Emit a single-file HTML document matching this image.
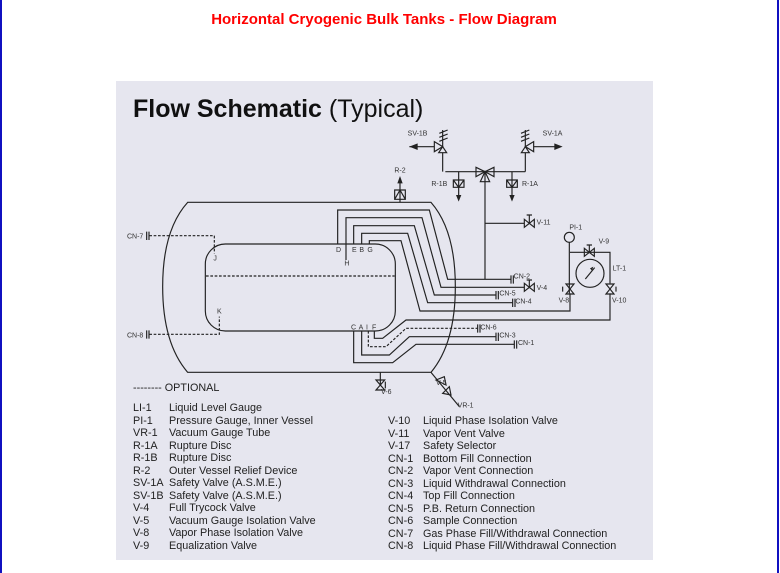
<!DOCTYPE html>
<html><head><meta charset="utf-8"><style>
body{margin:0;width:780px;height:573px;background:#fff;position:relative;overflow:hidden;font-family:"Liberation Sans",sans-serif}
.bl{position:absolute;top:0;bottom:0;width:2px;background:#1010c0}
.t{position:absolute;top:11px;left:0;width:768px;text-align:center;color:#f00;font-weight:bold;font-size:15px}
.p{position:absolute;left:116px;top:81px;width:537px;height:479px;background:#e6e6ef}
.lg{position:absolute;font-size:10.8px;color:#222;line-height:12.5px}
.lg div span{display:inline-block}
</style></head><body>
<div class="bl" style="left:0"></div><div class="bl" style="left:777px"></div>
<div class="t">Horizontal Cryogenic Bulk Tanks - Flow Diagram</div>
<div class="p"></div>
<svg style="position:absolute;left:0;top:0" width="780" height="573">
<text x="133" y="117" font-family="Liberation Sans" font-size="25" font-weight="bold" fill="#111">Flow Schematic <tspan font-weight="normal">(Typical)</tspan></text>
<g transform="translate(116,80) scale(0.33333)" fill="none" stroke="#222" stroke-width="3.5" font-family="Liberation Sans">
<path d="M215,367 H945 Q1018,450 1018,620 Q1018,790 945,877 H215 Q140,790 140,620 Q140,450 215,367 Z"/>
<rect x="268" y="492" width="570" height="261" rx="60" ry="60"/>
<path d="M270,588 H836" stroke-dasharray="8,5"/>
<path d="M665,492 V390 H940 L995,598 H1185"/>
<path d="M690,540 V413 H918 L975,622 H1225"/>
<path d="M713,492 V437 H895 L955,645 H1140"/>
<path d="M737,492 V460 H875 L935,668 H1190"/>
<path d="M760,492 V482 H855 L912,693 H1362 V640"/>
<path d="M775,753 V775 H800 L870,720 H1482 V640"/>
<path d="M757,753 V800 H810 L870,745 H1085" stroke-dasharray="8,5"/>
<path d="M737,753 V825 H820 L880,770 H1140"/>
<path d="M713,753 V848 H830 L900,793 H1195"/>
<path d="M100,467 H295 V520" stroke-dasharray="8,5"/>
<path d="M100,763 H310 V710" stroke-dasharray="8,5"/>
<path d="M92,455 V480 M99,455 V480 M92,751 V776 M99,751 V776"/>
<path d="M1185,586 V611 M1192,586 V611 M1140,633 V658 M1147,633 V658 M1190,656 V681 M1197,656 V681 M1085,733 V758 M1092,733 V758 M1140,758 V783 M1147,758 V783 M1195,781 V806 M1202,781 V806"/>
<path d="M1107,275 V598 M1107,430 H1225 M988,275 H1228 M980,218 V275 M1228,218 V275 M1028,275 V345 M1188,275 V345"/>
<path d="M1080,262 L1107,275 L1080,290 Z M1134,262 L1107,275 L1134,290 Z M1093,305 L1107,275 L1121,305 Z"/>
<path d="M1225,418 L1240,430 L1225,442 Z M1255,418 L1240,430 L1255,442 Z M1240,430 V405 M1232,405 H1248"/>
<path d="M1225,610 L1240,622 L1225,634 Z M1255,610 L1240,622 L1255,634 Z M1240,622 V600 M1232,600 H1248"/>
<path d="M955,185 L980,200 L955,215 Z M968,218 L980,200 L992,218 Z M980,150 V200 M970,160 L995,150 M970,172 L995,162 M970,184 L995,174 M1253,185 L1228,200 L1253,215 Z M1216,218 L1228,200 L1240,218 Z M1228,150 V200 M1215,160 L1240,150 M1215,172 L1240,162 M1215,184 L1240,174"/>
<path d="M955,200 H880 M1253,200 H1330"/>
<path d="M1012,300 H1044 V322 H1012 Z M1012,300 L1028,322 L1044,300 M1172,300 H1204 V322 H1172 Z M1172,300 L1188,322 L1204,300"/>
<path d="M836,330 H868 V358 H836 Z M836,358 L852,330 L868,358 M852,367 V300"/>
<circle cx="1422" cy="580" r="42"/><path d="M1408,597 L1436,563"/>
<circle cx="1360" cy="472" r="15"/><path d="M1360,487 V640 M1362,517 H1482 V610"/>
<path d="M1405,505 L1420,517 L1405,529 Z M1435,505 L1420,517 L1435,529 Z M1420,517 V495 M1412,495 H1428"/>
<path d="M1350,612 L1362,627 L1374,612 Z M1350,642 L1362,627 L1374,642 Z M1470,612 L1482,627 L1494,612 Z M1470,642 L1482,627 L1494,642 Z M1340,620 V635 M1500,620 V635"/>
<path d="M793,877 V915 M780,900 L793,915 L806,900 Z M780,930 L793,915 L806,930 Z M808,905 V925"/>
<path d="M945,877 L1030,980 M960,900 L985,890 L990,915 Z M1000,920 L980,940 L1005,945 Z"/>
<g fill="#222" stroke="none">
<path d="M880,200 L905,190 V210 Z M1340,200 L1315,190 V210 Z M1028,365 L1020,345 H1036 Z M1188,365 L1180,345 H1196 Z M852,288 L844,310 H860 Z M1422,565 L1432,560 L1428,572 Z"/>
<g font-size="21" fill="#333">
<text x="875" y="167">SV-1B</text><text x="1280" y="167">SV-1A</text><text x="835" y="277">R-2</text>
<text x="946" y="318">R-1B</text><text x="1218" y="318">R-1A</text><text x="1262" y="434">V-11</text>
<text x="1360" y="448">PI-1</text><text x="1448" y="490">V-9</text><text x="1490" y="572">LT-1</text>
<text x="1193" y="596">CN-2</text><text x="1262" y="630">V-4</text><text x="1150" y="646">CN-5</text><text x="1198" y="670">CN-4</text>
<text x="1328" y="667">V-8</text><text x="1488" y="667">V-10</text>
<text x="1093" y="748">CN-6</text><text x="1150" y="772">CN-3</text><text x="1206" y="795">CN-1</text>
<text x="33" y="476">CN-7</text><text x="33" y="772">CN-8</text>
<text x="660" y="516">D</text><text x="708" y="516">E</text><text x="730" y="516">B</text><text x="754" y="516">G</text><text x="685" y="556">H</text>
<text x="292" y="542">J</text><text x="303" y="700">K</text>
<text x="705" y="749">C</text><text x="728" y="749">A</text><text x="750" y="749">I</text><text x="768" y="749">F</text>
<text x="795" y="942">V-6</text><text x="960" y="915">V-5</text><text x="1025" y="982">VR-1</text>
</g></g></g>
</svg>
<div class="lg" style="left:133px;top:382px">-------- OPTIONAL</div>
<div class="lg" style="left:133px;top:402px">
<div><span style="width:36px">LI-1</span>Liquid Level Gauge</div>
<div><span style="width:36px">PI-1</span>Pressure Gauge, Inner Vessel</div>
<div><span style="width:36px">VR-1</span>Vacuum Gauge Tube</div>
<div><span style="width:36px">R-1A</span>Rupture Disc</div>
<div><span style="width:36px">R-1B</span>Rupture Disc</div>
<div><span style="width:36px">R-2</span>Outer Vessel Relief Device</div>
<div><span style="width:36px">SV-1A</span>Safety Valve (A.S.M.E.)</div>
<div><span style="width:36px">SV-1B</span>Safety Valve (A.S.M.E.)</div>
<div><span style="width:36px">V-4</span>Full Trycock Valve</div>
<div><span style="width:36px">V-5</span>Vacuum Gauge Isolation Valve</div>
<div><span style="width:36px">V-8</span>Vapor Phase Isolation Valve</div>
<div><span style="width:36px">V-9</span>Equalization Valve</div>
</div>
<div class="lg" style="left:388px;top:415px">
<div><span style="width:35px">V-10</span>Liquid Phase Isolation Valve</div>
<div><span style="width:35px">V-11</span>Vapor Vent Valve</div>
<div><span style="width:35px">V-17</span>Safety Selector</div>
<div><span style="width:35px">CN-1</span>Bottom Fill Connection</div>
<div><span style="width:35px">CN-2</span>Vapor Vent Connection</div>
<div><span style="width:35px">CN-3</span>Liquid Withdrawal Connection</div>
<div><span style="width:35px">CN-4</span>Top Fill Connection</div>
<div><span style="width:35px">CN-5</span>P.B. Return Connection</div>
<div><span style="width:35px">CN-6</span>Sample Connection</div>
<div><span style="width:35px">CN-7</span>Gas Phase Fill/Withdrawal Connection</div>
<div><span style="width:35px">CN-8</span>Liquid Phase Fill/Withdrawal Connection</div>
</div>
</body></html>
